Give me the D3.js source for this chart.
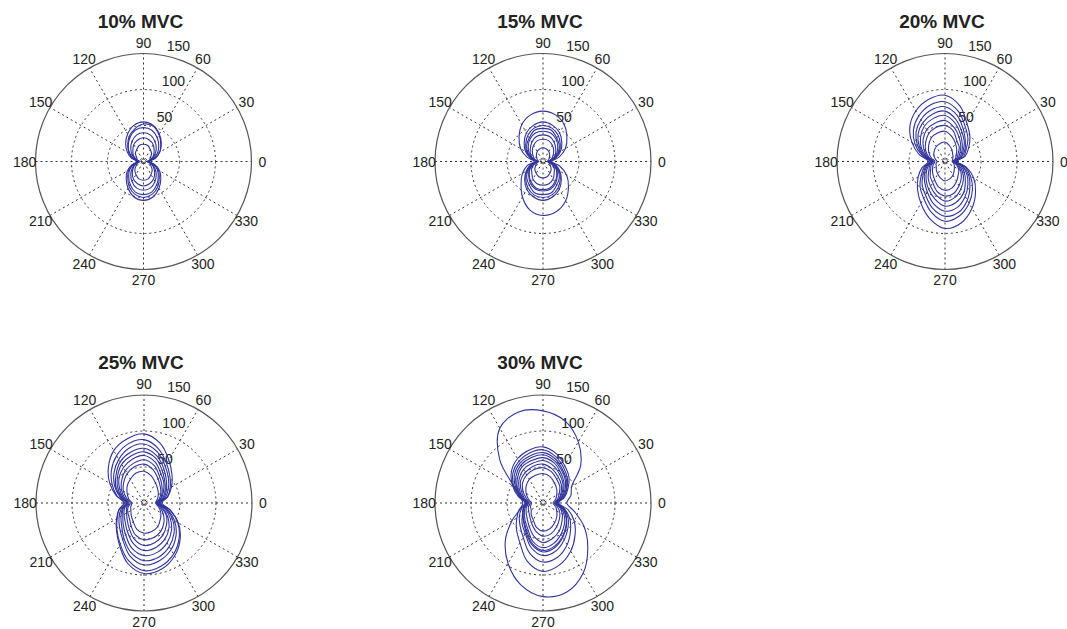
<!DOCTYPE html>
<html>
<head>
<meta charset="utf-8">
<script src="https://cdn.jsdelivr.net/npm/d3@7/dist/d3.min.js"></script>
<style>
  html, body { margin: 0; padding: 0; background: #fff; }
  svg { display: block; }
  text { font-family: "Liberation Sans", Arial, sans-serif; fill: #222; }
</style>
</head>
<body>
<svg id="chart" width="1067" height="629"></svg>
<script>
// Sampling angles (degrees) at which each loop's radius is given
const sampleAngles = [0, 15, 30, 45, 60, 75, 90, 105, 120, 135, 150, 165,
                      180, 195, 210, 225, 240, 255, 270, 285, 300, 315, 330, 345];
// Angular tick labels and radial rings
const angleTicks = [0, 30, 60, 90, 120, 150, 180, 210, 240, 270, 300, 330];
const ringTicks = [50, 100, 150];
const rMax = 150;
const panelTitles = ["10% MVC", "15% MVC", "20% MVC", "25% MVC", "30% MVC"];

// Loop radii, one row per trial, one value per sampling angle
const mvc10 = [
  [8, 17, 26, 35, 44, 52, 55, 52, 44, 35, 26, 17, 8, 15, 24, 31, 40, 47, 50, 47, 40, 31, 24, 15],
  [7, 16, 26, 34, 43, 51, 52, 47, 40, 31, 23, 15, 8, 16, 26, 34, 43, 51, 54, 51, 43, 34, 26, 16],
  [7, 14, 22, 30, 38, 45, 47, 45, 38, 30, 22, 14, 7, 14, 22, 29, 37, 44, 46, 44, 37, 29, 22, 14],
  [6, 12, 18, 25, 32, 38, 40, 38, 32, 25, 18, 12, 7, 12, 18, 25, 32, 38, 40, 38, 32, 25, 18, 12],
  [6, 10, 16, 21, 27, 31, 33, 31, 27, 21, 16, 10, 6, 11, 16, 22, 28, 32, 34, 32, 28, 22, 16, 11],
  [5, 9, 11, 16, 19, 23, 24, 23, 19, 16, 11, 9, 5, 9, 12, 17, 21, 25, 26, 25, 21, 17, 12, 9]
];
const mvc15 = [
  [12, 23, 36, 47, 59, 67, 70, 67, 59, 47, 36, 23, 12, 23, 33, 43, 57, 70, 75, 72, 63, 50, 38, 24],
  [10, 18, 28, 37, 46, 52, 55, 52, 46, 37, 28, 18, 10, 18, 27, 36, 45, 51, 54, 51, 45, 36, 27, 18],
  [10, 17, 26, 34, 42, 48, 50, 48, 42, 34, 26, 17, 10, 17, 26, 34, 42, 48, 50, 48, 42, 34, 26, 17],
  [9, 16, 24, 32, 38, 45, 46, 45, 38, 32, 24, 16, 9, 16, 24, 32, 38, 45, 46, 45, 38, 32, 24, 16],
  [9, 15, 22, 29, 36, 41, 42, 41, 36, 29, 22, 15, 9, 15, 22, 28, 35, 40, 41, 40, 35, 28, 22, 15],
  [8, 14, 20, 25, 31, 36, 37, 36, 31, 25, 20, 14, 8, 14, 21, 27, 33, 38, 39, 38, 33, 27, 21, 14],
  [7, 12, 16, 21, 26, 30, 31, 30, 26, 21, 16, 12, 7, 12, 18, 22, 28, 32, 33, 32, 28, 22, 18, 12],
  [6, 8, 10, 13, 16, 18, 19, 18, 16, 13, 10, 8, 6, 9, 12, 16, 19, 22, 23, 22, 19, 16, 12, 9]
];
const mvc20 = [
  [17, 29, 38, 49, 61, 80, 92, 89, 81, 69, 53, 37, 23, 33, 43, 54, 67, 82, 93, 88, 75, 60, 46, 31],
  [16, 27, 34, 45, 56, 72, 83, 81, 73, 62, 48, 33, 21, 30, 38, 49, 59, 73, 83, 78, 67, 54, 41, 29],
  [15, 24, 32, 40, 51, 66, 76, 74, 67, 57, 44, 31, 20, 28, 35, 45, 54, 67, 76, 73, 62, 49, 38, 26],
  [15, 23, 29, 38, 47, 60, 70, 68, 62, 53, 41, 29, 19, 26, 33, 40, 49, 61, 69, 66, 56, 45, 35, 25],
  [14, 21, 27, 34, 43, 55, 64, 62, 57, 48, 38, 27, 18, 24, 30, 37, 45, 54, 62, 59, 51, 40, 31, 23],
  [13, 19, 24, 31, 39, 49, 57, 55, 51, 43, 34, 25, 17, 22, 26, 33, 40, 48, 55, 52, 44, 36, 28, 20],
  [12, 17, 21, 28, 33, 44, 50, 49, 45, 38, 31, 23, 16, 20, 23, 29, 34, 43, 48, 46, 39, 32, 25, 18],
  [11, 15, 18, 23, 29, 36, 42, 41, 38, 32, 26, 20, 14, 17, 20, 24, 29, 36, 40, 38, 32, 26, 22, 16],
  [10, 11, 13, 15, 19, 23, 27, 26, 24, 21, 18, 14, 11, 13, 14, 17, 20, 24, 27, 25, 22, 18, 15, 13]
];
const mvc25 = [
  [23, 34, 44, 55, 69, 86, 96, 92, 84, 70, 55, 40, 27, 36, 44, 54, 68, 87, 98, 95, 85, 71, 55, 37],
  [25, 34, 42, 51, 63, 78, 88, 85, 76, 64, 51, 39, 28, 36, 43, 53, 66, 83, 94, 91, 82, 69, 54, 38],
  [22, 31, 39, 48, 59, 73, 82, 79, 70, 59, 47, 35, 25, 33, 40, 48, 59, 76, 86, 83, 75, 63, 49, 34],
  [21, 29, 36, 44, 55, 68, 76, 73, 66, 55, 45, 33, 24, 31, 37, 44, 56, 71, 80, 78, 70, 59, 46, 32],
  [20, 27, 34, 41, 51, 64, 71, 68, 62, 52, 42, 32, 23, 30, 34, 41, 51, 65, 73, 71, 64, 54, 42, 30],
  [19, 25, 31, 39, 47, 59, 66, 63, 57, 49, 39, 30, 22, 28, 32, 37, 46, 58, 66, 64, 58, 49, 38, 27],
  [18, 24, 29, 35, 43, 54, 60, 57, 52, 44, 36, 28, 21, 25, 28, 33, 41, 52, 59, 57, 52, 44, 36, 25],
  [17, 22, 27, 32, 39, 48, 54, 52, 47, 40, 33, 25, 19, 23, 26, 29, 36, 46, 51, 50, 46, 39, 31, 23],
  [16, 19, 23, 27, 32, 39, 44, 43, 38, 33, 27, 22, 17, 19, 21, 25, 30, 38, 42, 41, 38, 32, 27, 21]
];
const mvc30 = [
  [33, 40, 46, 74, 98, 118, 128, 131, 120, 85, 47, 33, 28, 33, 50, 74, 97, 118, 130, 128, 112, 88, 66, 45],
  [22, 31, 40, 51, 60, 71, 78, 76, 71, 62, 49, 36, 25, 34, 42, 52, 64, 84, 95, 89, 77, 63, 50, 36],
  [20, 29, 38, 48, 57, 67, 74, 72, 67, 59, 47, 34, 24, 31, 38, 45, 55, 72, 82, 78, 67, 54, 43, 31],
  [21, 29, 37, 46, 54, 64, 70, 68, 64, 56, 44, 32, 23, 28, 32, 37, 45, 58, 66, 62, 54, 45, 37, 29],
  [20, 27, 35, 44, 52, 61, 67, 65, 61, 53, 42, 31, 22, 28, 33, 41, 49, 64, 73, 69, 59, 49, 40, 30],
  [19, 26, 33, 41, 49, 58, 63, 61, 58, 50, 41, 30, 22, 28, 33, 38, 47, 60, 68, 64, 55, 46, 37, 28],
  [18, 24, 31, 39, 46, 54, 59, 57, 54, 47, 38, 29, 21, 26, 30, 35, 42, 55, 62, 58, 50, 42, 34, 26],
  [17, 23, 29, 36, 42, 49, 54, 53, 49, 44, 35, 27, 20, 24, 27, 31, 38, 48, 55, 51, 45, 37, 31, 24],
  [16, 21, 26, 33, 38, 45, 49, 48, 45, 40, 32, 24, 18, 21, 23, 26, 32, 40, 46, 44, 38, 32, 27, 21],
  [14, 18, 22, 27, 32, 38, 41, 40, 38, 33, 27, 21, 16, 18, 19, 23, 27, 35, 39, 37, 32, 27, 22, 18]
];

const panelData = [mvc10, mvc15, mvc20, mvc25, mvc30];
const panelCenters = [
  [143.5, 161.5], [543, 161.5], [945, 161.5],
  [144, 503], [543, 503]
];

const svg = d3.select("#chart");
const rScale = d3.scaleLinear().domain([0, rMax]).range([0, 108]);
const toRad = d => d * Math.PI / 180;

// d3 radial angle runs clockwise from 12 o'clock; polar angle runs counter-clockwise from 3 o'clock
const loopLine = d3.lineRadial()
  .angle(d => Math.PI / 2 - toRad(d.a))
  .radius(d => rScale(d.r))
  .curve(d3.curveCatmullRomClosed.alpha(0.5));

panelData.forEach((loops, i) => {
  const [cx, cy] = panelCenters[i];
  const g = svg.append("g").attr("transform", `translate(${cx},${cy})`);
  const R = rScale(rMax);

  // dotted inner rings
  g.selectAll("circle.ring")
    .data(ringTicks.filter(t => t < rMax))
    .join("circle")
    .attr("class", "ring")
    .attr("r", d => rScale(d))
    .attr("fill", "none")
    .attr("stroke", "#333")
    .attr("stroke-width", 1)
    .attr("stroke-dasharray", "2,3");

  // dotted spokes across the full diameter
  g.selectAll("line.spoke")
    .data(angleTicks.filter(a => a < 180))
    .join("line")
    .attr("class", "spoke")
    .attr("x1", d => -R * Math.cos(toRad(d)))
    .attr("y1", d => R * Math.sin(toRad(d)))
    .attr("x2", d => R * Math.cos(toRad(d)))
    .attr("y2", d => -R * Math.sin(toRad(d)))
    .attr("stroke", "#333")
    .attr("stroke-width", 1)
    .attr("stroke-dasharray", "2,3");

  // solid outer ring
  g.append("circle")
    .attr("r", R)
    .attr("fill", "none")
    .attr("stroke", "#555")
    .attr("stroke-width", 1.2);

  // radial tick labels along 82 degrees
  g.selectAll("text.rlab")
    .data(ringTicks)
    .join("text")
    .attr("class", "rlab")
    .attr("x", d => rScale(d + 2.5) * Math.cos(toRad(82)) + 8)
    .attr("y", d => -rScale(d + 2.5) * Math.sin(toRad(82)) - 2)
    .attr("font-size", 14)
    .text(d => d);

  // angular tick labels
  g.selectAll("text.alab")
    .data(angleTicks)
    .join("text")
    .attr("class", "alab")
    .attr("x", d => 1.1 * R * Math.cos(toRad(d)))
    .attr("y", d => -1.1 * R * Math.sin(toRad(d)))
    .attr("text-anchor", "middle")
    .attr("dominant-baseline", "central")
    .attr("font-size", 14)
    .text(d => d);

  // trial loops
  g.selectAll("path.loop")
    .data(loops)
    .join("path")
    .attr("class", "loop")
    .attr("d", row => loopLine(row.map((r, k) => ({ a: sampleAngles[k], r }))))
    .attr("fill", "none")
    .attr("stroke", "#30349b")
    .attr("stroke-width", 1.1);

  // panel title
  svg.append("text")
    .attr("x", cx - 3)
    .attr("y", cy - 134)
    .attr("text-anchor", "middle")
    .attr("font-size", 19)
    .attr("font-weight", "bold")
    .attr("fill", "#111")
    .text(panelTitles[i]);
});
</script>
</body>
</html>
